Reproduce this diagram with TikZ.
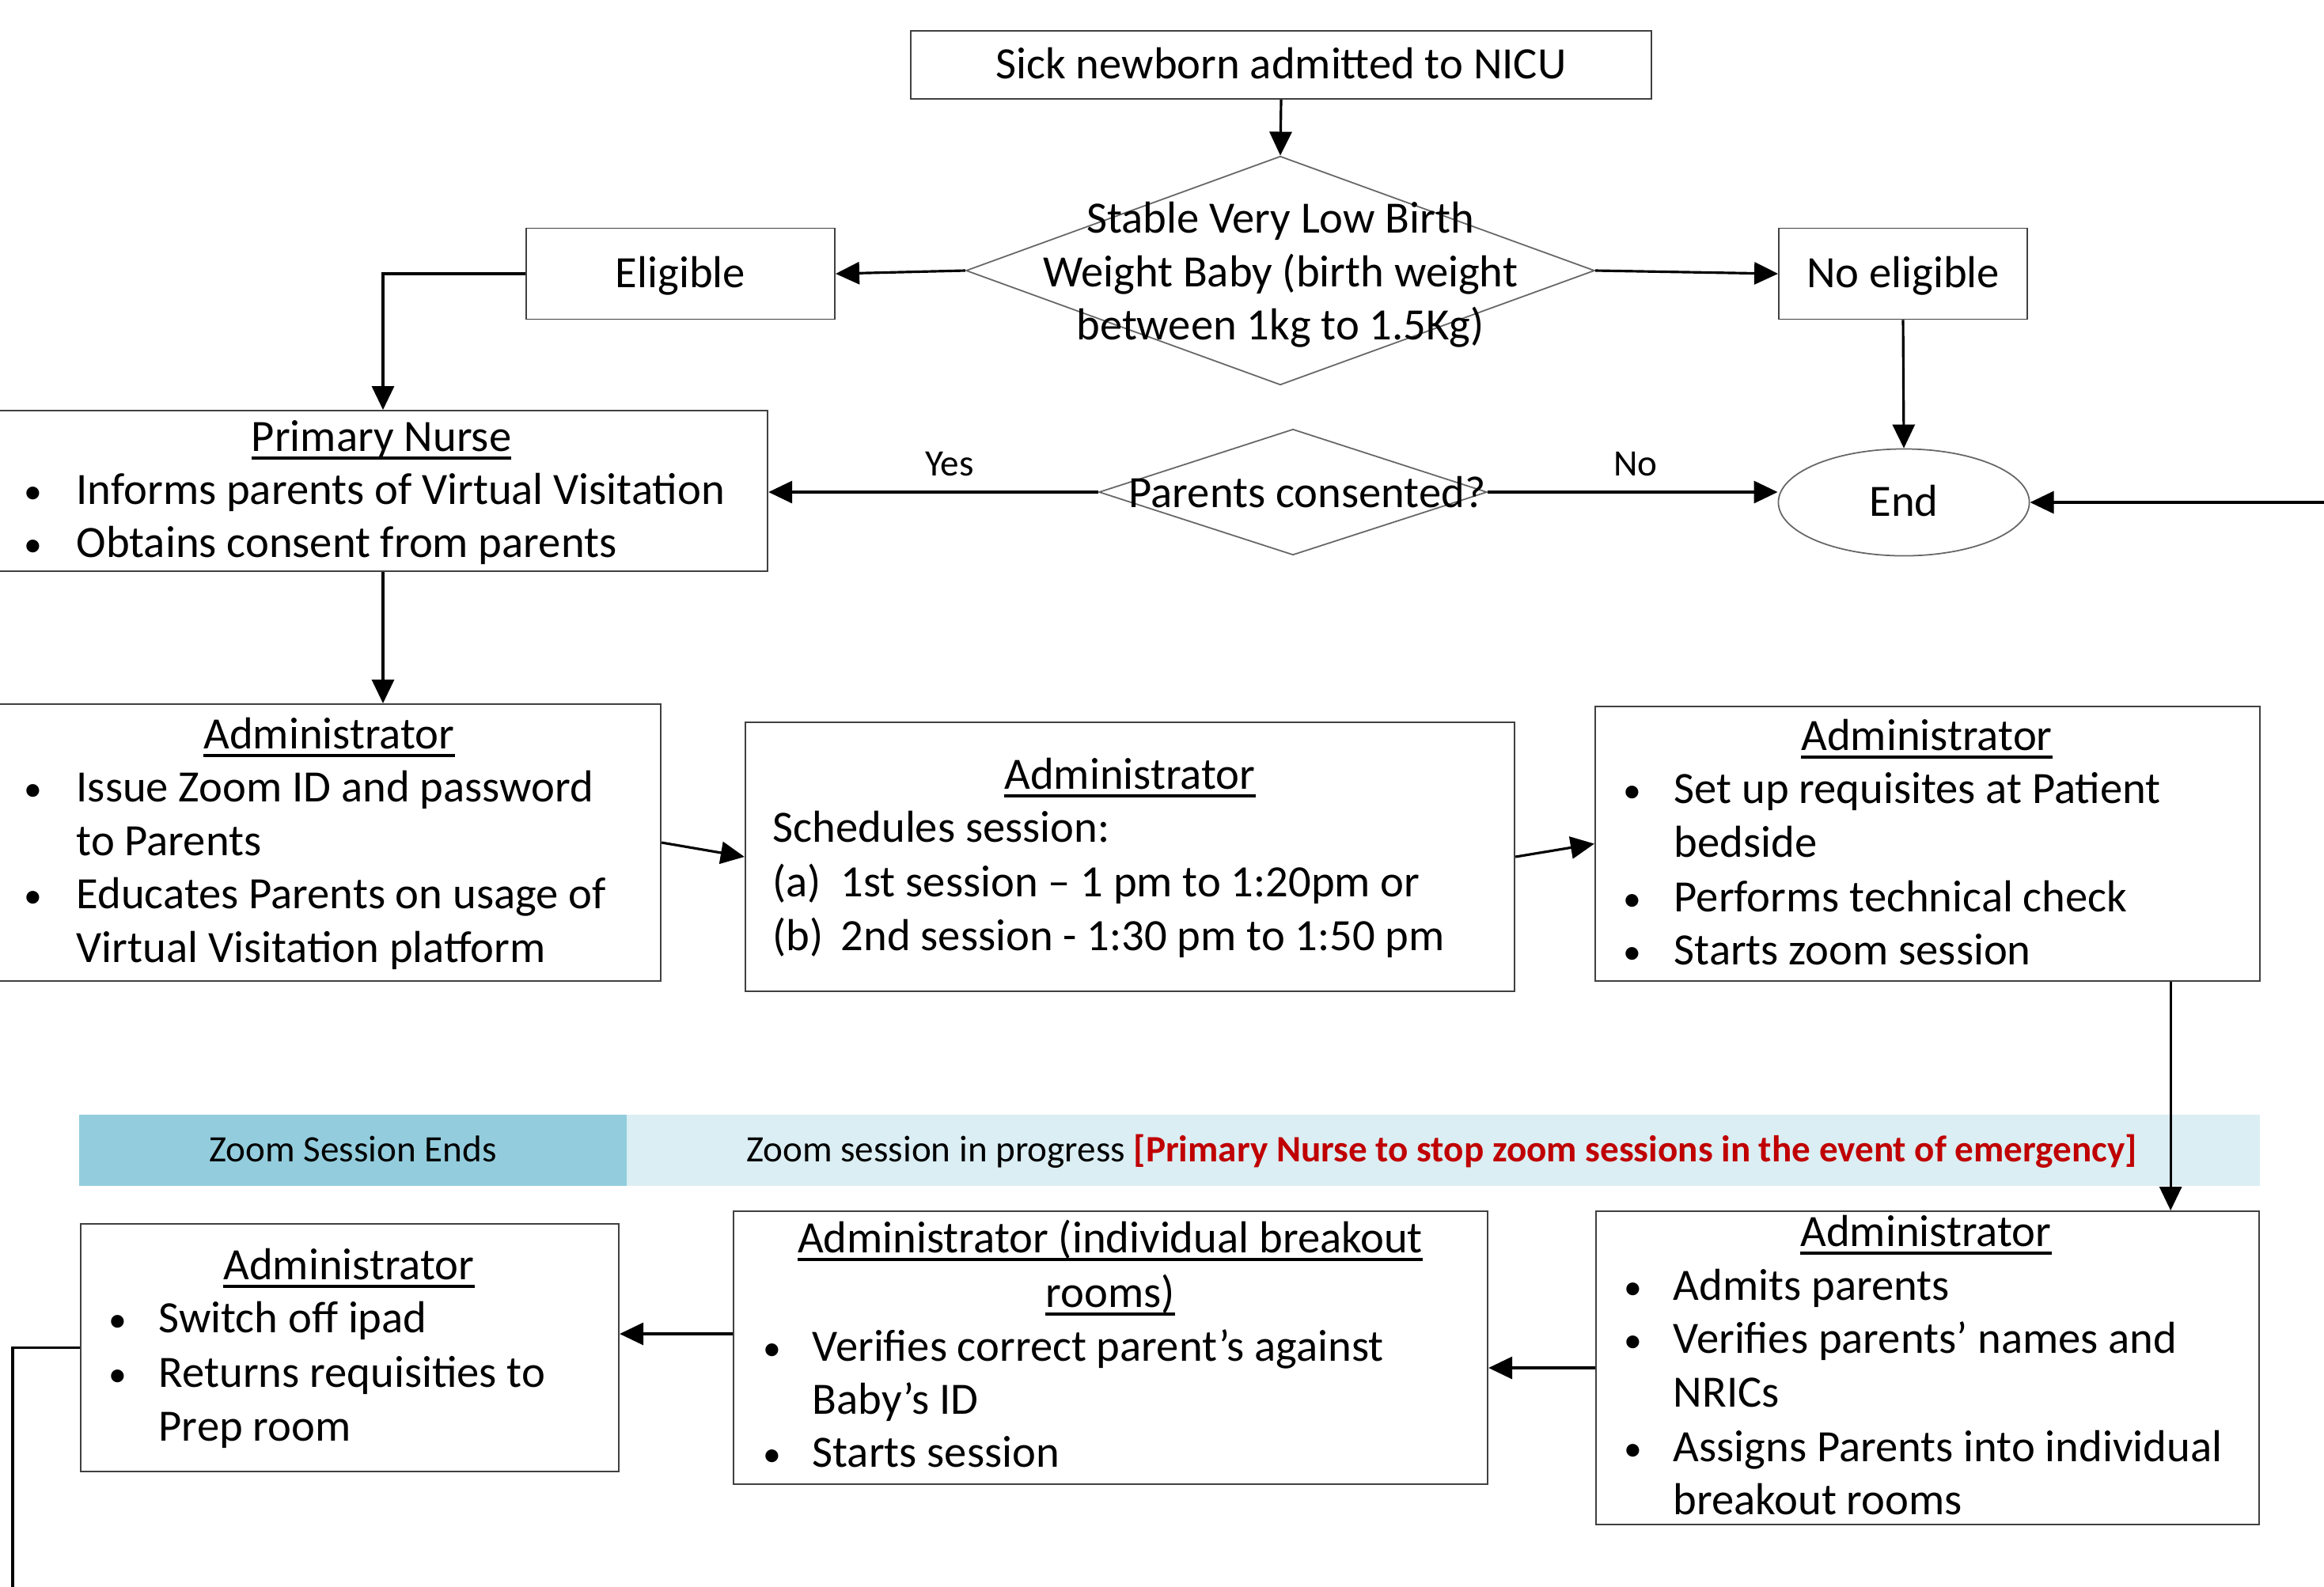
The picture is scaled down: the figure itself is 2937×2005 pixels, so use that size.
\documentclass[tikz,border=0pt]{standalone}
\usepackage{fontspec}
\setmainfont{Carlito}
\usetikzlibrary{shapes.geometric,arrows.meta,calc}
\definecolor{bandA}{HTML}{93CDDD}
\definecolor{bandB}{HTML}{DAEEF3}
\definecolor{warn}{HTML}{C00000}
\newcommand\fmain{\fontsize{16.1}{19.2}\selectfont}
\newcommand\fsml{\fontsize{13.4}{16}\selectfont}
\newcommand\fbul{\fontsize{13}{16}\selectfont}
\newcommand\hdl[1]{\setbox0\hbox{#1}\rlap{\vrule height -1.9pt depth 2.9pt width \wd0}\box0}
\newcommand\bpt[3]{\node[inner sep=0,anchor=west,font=\fbul] (#1) at (#2+3,#3-3) {\textbullet};}
\newcommand\tline[4]{\node[txt,anchor=mid west] (#1) at (#2,#3) {#4};}
\begin{document}
\begin{tikzpicture}[x=0.01cm,y=-0.01cm,
  box/.style={draw=black!75,line width=0.5pt,rectangle,inner sep=0},
  dia/.style={draw=black!60,line width=0.5pt,diamond,inner sep=0},
  txt/.style={inner sep=0,anchor=mid,font=\fmain},
  sml/.style={inner sep=0,anchor=mid,font=\fsml},
  arr/.style={line width=0.9pt,-{Triangle[length=0.3cm,width=0.28cm]}},
  lin/.style={line width=0.9pt}]
\useasboundingbox (0,0) rectangle (2937,2005);

% ---- top part
\node[box,minimum width=9.36cm,minimum height=0.86cm] (top) at (1619,82) {};
\node[txt] (topt) at (1619,91) {Sick newborn admitted to NICU};
\node[dia,minimum width=7.94cm,minimum height=2.89cm] (d1) at (1618,342) {};
\node[txt] (d1a) at (1618,286) {Stable Very Low Birth};
\node[txt] (d1b) at (1618,354) {Weight Baby (birth weight};
\node[txt] (d1c) at (1618,421) {between 1kg to 1.5Kg)};
\node[box,minimum width=3.9cm,minimum height=1.15cm] (elig) at (860,346) {};
\node[txt] (eligt) at (860,355) {Eligible};
\node[box,minimum width=3.14cm,minimum height=1.15cm] (nelig) at (2405,346) {};
\node[txt] (neligt) at (2405,355) {No eligible};

% ---- primary nurse
\node[box,minimum width=9.72cm,minimum height=2.03cm] (pn) at (484,620.5) {};
\node[txt] (pnh) at (482,562) {\hdl{Primary Nurse}};
\bpt{pnb1}{27}{629}\tline{pnl1}{96}{629}{Informs parents of Virtual Visitation}
\bpt{pnb2}{27}{696}\tline{pnl2}{96}{696}{Obtains consent from parents}

\node[dia,minimum width=4.9cm,minimum height=1.59cm] (d2) at (1634,622) {};
\node[txt] (d2t) at (1652,633) {Parents consented?};
\node[draw=black!60,line width=0.5pt,ellipse,minimum width=3.17cm,minimum height=1.35cm,inner sep=0] (end) at (2406,635) {};
\node[txt] (endt) at (2406,644) {End};
\coordinate (rin) at (2937,635);
\node[sml] (yes) at (1200,593) {Yes};
\node[sml] (no) at (2067,593) {No};

% ---- admin row 1
\node[box,minimum width=8.37cm,minimum height=3.5cm] (a1) at (416.5,1065) {};
\node[txt] (a1h) at (416,938) {\hdl{Administrator}};
\bpt{a1b1}{27}{1005}\tline{a1l1}{96}{1005}{Issue Zoom ID and password}
\tline{a1l2}{96}{1073}{to Parents}
\bpt{a1b3}{27}{1140}\tline{a1l3}{96}{1140}{Educates Parents on usage of}
\tline{a1l4}{96}{1208}{Virtual Visitation platform}

\node[box,minimum width=9.72cm,minimum height=3.4cm] (a2) at (1428,1083) {};
\node[txt] (a2h) at (1428,989) {\hdl{Administrator}};
\tline{a2l1}{976}{1056}{Schedules session:}
\tline{a2l2}{976}{1125}{\makebox[0.86cm][l]{(a)}1st session -- 1 pm to 1:20pm or}
\tline{a2l3}{976}{1193}{\makebox[0.86cm][l]{(b)}2nd session - 1:30 pm to 1:50 pm}

\node[box,minimum width=8.4cm,minimum height=3.47cm] (a3) at (2436,1066.5) {};
\node[txt] (a3h) at (2435,940) {\hdl{Administrator}};
\bpt{a3b1}{2048}{1007}\tline{a3l1}{2115}{1007}{Set up requisites at Patient}
\tline{a3l2}{2115}{1075}{bedside}
\bpt{a3b3}{2048}{1144}\tline{a3l3}{2115}{1144}{Performs technical check}
\bpt{a3b4}{2048}{1211}\tline{a3l4}{2115}{1211}{Starts zoom session}

% ---- band
\node[fill=bandA,inner sep=0,minimum width=6.93cm,minimum height=0.9cm] (bandL) at (446.5,1454) {};
\node[fill=bandB,inner sep=0,minimum width=20.62cm,minimum height=0.9cm] (bandR) at (1824,1454) {};
\node[sml] (bandLt) at (446,1460) {Zoom Session Ends};
\node[sml] (bandRt) at (1822,1460) {Zoom session in progress \textcolor{warn}{\bfseries[Primary Nurse to stop zoom sessions in the event of emergency]}};

% ---- admin row 2
\node[box,minimum width=8.38cm,minimum height=3.96cm] (a4) at (2436,1729) {};
\node[txt] (a4h) at (2434,1567) {\hdl{Administrator}};
\bpt{a4b1}{2049}{1635}\tline{a4l1}{2114}{1635}{Admits parents}
\bpt{a4b2}{2049}{1702}\tline{a4l2}{2114}{1702}{Verifies parents’ names and}
\tline{a4l3}{2114}{1770}{NRICs}
\bpt{a4b4}{2049}{1839}\tline{a4l4}{2114}{1839}{Assigns Parents into individual}
\tline{a4l5}{2114}{1906}{breakout rooms}

\node[box,minimum width=9.53cm,minimum height=3.45cm] (a5) at (1403.5,1703.5) {};
\node[txt] (a5h1) at (1403,1575) {\hdl{Administrator (individual breakout}};
\node[txt] (a5h2) at (1403,1644) {\hdl{rooms)}};
\bpt{a5b1}{961}{1712}\tline{a5l1}{1026}{1712}{Verifies correct parent’s against}
\tline{a5l2}{1026}{1779}{Baby’s ID}
\bpt{a5b3}{961}{1846}\tline{a5l3}{1026}{1846}{Starts session}

\node[box,minimum width=6.8cm,minimum height=3.13cm] (a6) at (442,1703.5) {};
\node[txt] (a6h) at (441,1609) {\hdl{Administrator}};
\bpt{a6b1}{134}{1676}\tline{a6l1}{200}{1676}{Switch off ipad}
\bpt{a6b2}{134}{1745}\tline{a6l2}{200}{1745}{Returns requisities to}
\tline{a6l3}{200}{1813}{Prep room}

% ---- connectors
\draw[arr] (top.south) -- (d1.north);
\draw[arr] (d1.west) -- (elig.east);
\draw[arr] (d1.east) -- (nelig.west);
\draw[arr] (elig.west) -| (pn.north);
\draw[arr] (nelig.south) -- (end.north);
\draw[arr] (d2.west) -- (d2.west -| pn.east);
\draw[arr] (d2.east) -- (d2.east -| end.west);
\draw[arr] (rin) -- (end.east);
\draw[arr] (pn.south) -- (pn.south |- a1.north);
\draw[arr] (a1.east) -- (a2.west);
\draw[arr] (a2.east) -- (a3.west);
\coordinate (a3o) at ($(a3.south east)+(-114,0)$);
\draw[arr] (a3o) -- (a3o |- a4.north);
\draw[arr] (a4.west) -- (a4.west -| a5.east);
\coordinate (a5o) at ($(a5.west)+(0,-17.5)$);
\draw[arr] (a5o) -- (a5o -| a6.east);
\coordinate (bot) at (16,2012);
\draw[lin] (a6.west) -| (bot);
\end{tikzpicture}
\end{document}
